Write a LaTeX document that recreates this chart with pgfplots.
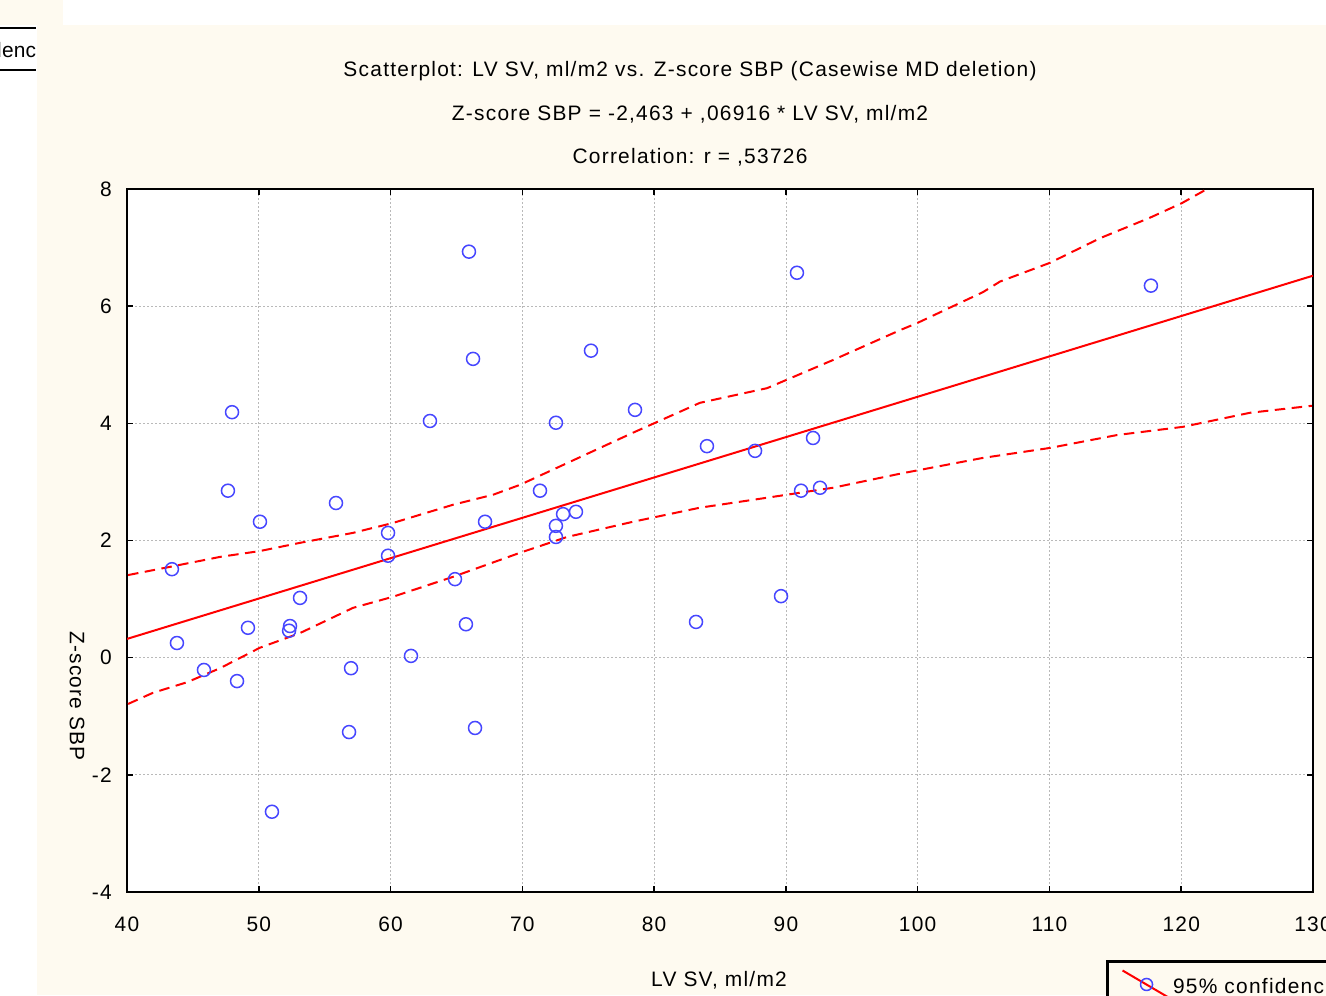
\documentclass[border=0pt]{standalone}
\usepackage{fontspec}
\setmainfont{Liberation Sans}[LetterSpace=6]
\usepackage{pgfplots}
\pgfplotsset{compat=1.18}

\definecolor{cream}{RGB}{254,250,240}
\definecolor{ptblue}{RGB}{70,70,255}
\definecolor{gridgray}{RGB}{185,185,185}

\pgfplotstableread{
x y
43.41 1.51
43.79 0.25
45.84 -0.21
47.97 4.19
47.66 2.85
48.35 -0.40
49.18 0.51
50.09 2.32
51.00 -2.63
52.37 0.54
52.30 0.46
53.13 1.02
55.86 2.64
56.85 -1.27
57.00 -0.18
59.81 2.13
59.81 1.74
61.55 0.03
62.99 4.04
64.89 1.34
65.72 0.57
65.95 6.93
66.26 5.10
66.41 -1.20
67.17 2.32
71.34 2.85
72.55 4.01
72.55 2.25
72.55 2.06
73.09 2.45
74.07 2.49
75.21 5.24
78.55 4.23
83.18 0.61
84.01 3.61
87.66 3.53
89.63 1.05
90.84 6.57
91.15 2.85
92.06 3.75
92.59 2.90
117.70 6.35
}\pointsdata

\pgfplotstableread{
x y
40.08 1.41
43.26 1.55
47.06 1.72
50.09 1.82
53.13 1.96
57.15 2.13
60.19 2.30
64.74 2.61
67.77 2.78
69.82 2.95
73.39 3.32
78.40 3.84
83.48 4.35
88.57 4.60
93.57 5.08
98.66 5.59
99.95 5.71
104.96 6.24
106.25 6.42
110.04 6.74
113.84 7.16
117.63 7.51
120.06 7.76
121.96 8.00
}\upband

\pgfplotstableread{
x y
40.08 -0.79
41.97 -0.60
44.55 -0.42
47.06 -0.18
50.09 0.17
53.13 0.42
57.15 0.85
60.19 1.04
64.74 1.38
69.82 1.79
73.39 2.06
78.40 2.32
83.48 2.56
88.57 2.73
93.57 2.90
98.66 3.14
104.96 3.41
110.04 3.58
115.13 3.80
120.13 3.94
125.22 4.18
129.92 4.30
}\lowband

\begin{document}
\begin{tikzpicture}[x=0.2mm,y=0.2mm,font=\fontsize{11.9}{14}\selectfont]
\useasboundingbox (0,0) rectangle (1326,995);
\clip (0,0) rectangle (1326,995);
% page background, with the bits of a neighbouring panel at top left
\fill[white] (0,0) rectangle (1326,995);
\fill[cream] (37,0) rectangle (1326,970);
\fill[cream] (0,970) rectangle (63,995);
\draw[line width=0.4mm] (0,967) -- (36,967);
\draw[line width=0.4mm] (0,925) -- (36,925);
\begin{scope}
\clip (0,930) rectangle (36,962);
\node[anchor=base east, inner sep=0pt, font=\fontsize{11.9}{14}\selectfont\addfontfeatures{LetterSpace=1}] at (36.5,937) {confidenc};
\end{scope}
\node[anchor=base, inner sep=0pt] at (32,998) {220};

% titles
\node[anchor=base, inner sep=0pt] at (690,918) {Scatterplot: LV SV, ml/m2 vs. Z-score SBP (Casewise MD deletion)};
\node[anchor=base, inner sep=0pt] at (690,874) {Z-score SBP = -2,463 + ,06916 * LV SV, ml/m2};
\node[anchor=base, inner sep=0pt] at (690,831) {Correlation: r = ,53726};
\node[anchor=base, inner sep=0pt] at (719,9) {LV SV, ml/m2};
\node[rotate=-90, inner sep=0pt] at (77,299) {Z-score SBP};

\begin{axis}[
    at={(25.4mm,20.6mm)}, anchor=south west,
    width=237.2mm, height=140.6mm, scale only axis,
    xmin=40, xmax=130, ymin=-4, ymax=8,
    xtick={40,50,...,130}, ytick={-4,-2,...,8},
    axis background/.style={fill=white},
    axis line style={line width=0.4mm},
    tick align=inside, major tick length=1.2mm,
    every tick/.style={black, line width=0.3mm},
    grid=major,
    grid style={gridgray, line width=0.15mm, dash pattern=on 0.4mm off 0.4mm},
    /pgf/number format/assume math mode=true,
    ticklabel style={font=\fontsize{11.9}{14}\selectfont, inner sep=0pt},
    xticklabel style={anchor=center, yshift=-6.5mm},
    yticklabel style={anchor=east, xshift=-3mm},
    legend style={at={(0.8255,-0.0967)}, anchor=north west,
        draw=black, line width=0.6mm, fill=cream,
        inner xsep=2.8mm, inner ysep=1.6mm,
        font=\fontsize{11.9}{14}\selectfont},
    legend cell align=left,
]
\addplot[only marks, mark=o, mark size=1.3mm,
    mark options={ptblue, line width=0.3mm}, forget plot] table[x=x,y=y] {\pointsdata};
\addplot[red, line width=0.4mm, forget plot] coordinates {(40,0.32) (130,6.52)};
\addplot[red, line width=0.4mm, dash pattern=on 2.1mm off 1.3mm, forget plot] table[x=x,y=y] {\upband};
\addplot[red, line width=0.4mm, dash pattern=on 2.1mm off 1.3mm, forget plot] table[x=x,y=y] {\lowband};
\addlegendimage{legend image code/.code={
    \draw[red, line width=0.4mm] (0mm,3.4mm) -- (9.2mm,-2.0mm);
    \draw[ptblue, line width=0.3mm] (4.8mm,0.6mm) circle (1.2mm);}}
\addlegendentry{95\% confidence}
\end{axis}
\end{tikzpicture}
\end{document}
